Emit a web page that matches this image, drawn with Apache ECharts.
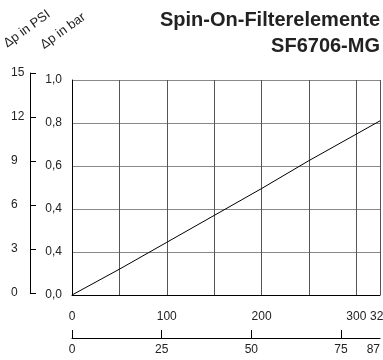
<!DOCTYPE html>
<html><head><meta charset="utf-8">
<script src="https://cdn.jsdelivr.net/npm/echarts@6/dist/echarts.min.js"></script>
<style>html,body{margin:0;padding:0;background:#fff}#c{width:383px;height:360px}</style>
</head><body><div id="c"></div>
<script>
const titleLines = ["Spin-On-Filterelemente", "SF6706-MG"];
const yTitlePSI = "Δp in PSI";
const yTitleBar = "Δp in bar";
const flowLmin = [0, 50, 100, 150, 200, 250, 325];
const dpBar = [0, 0.12, 0.245, 0.37, 0.495, 0.625, 0.81];
const barTickLabels = ["0,0", "0,4", "0,4", "0,6", "0,8", "1,0"];
const psiTicks = [0, 3, 6, 9, 12, 15];
const lminLabelValues = [0, 100, 200, 300, 325];
const lminLabels = ["0", "100", "200", "300", "325"];
const gpmTickValues = [0, 25, 50, 75];
const gpmLabelValues = [0, 25, 50, 75, 85.86];
const gpmLabels = ["0", "25", "50", "75", "87"];

const FONT = "'Liberation Sans Narrow','Liberation Sans',Arial,sans-serif";
const chart = echarts.init(document.getElementById('c'), null, {renderer: 'canvas'});
const lab = {color: '#222', fontFamily: FONT, fontSize: 12};
chart.setOption({
  animation: false,
  grid: [
    {left: 72, top: 80, width: 308, height: 215, outerBoundsMode: 'none', containLabel: false},
    {left: 30, top: 73, width: 1, height: 220, outerBoundsMode: 'none', containLabel: false}
  ],
  xAxis: [
    {gridIndex: 0, type: 'value', min: 0, max: 325, interval: 50,
     axisLine: {show: true, lineStyle: {color: '#000', width: 1}},
     axisTick: {show: false}, axisLabel: {show: false},
     splitLine: {show: true, lineStyle: {color: '#555', width: 1}}},
    {gridIndex: 0, type: 'value', min: 0, max: 325, position: 'bottom',
     axisLine: {show: false}, axisTick: {show: false}, splitLine: {show: false},
     axisLabel: Object.assign({show: true, margin: 16, customValues: lminLabelValues,
       formatter: v => lminLabels[lminLabelValues.indexOf(v)] ?? ''}, lab)},
    {gridIndex: 0, type: 'value', min: 0, max: 85.86, position: 'bottom', offset: 43,
     axisLine: {show: true, onZero: false, lineStyle: {color: '#000', width: 1}},
     axisTick: {show: true, inside: true, length: 8, customValues: gpmTickValues, lineStyle: {color: '#000'}},
     splitLine: {show: false},
     axisLabel: Object.assign({show: true, margin: 6, customValues: gpmLabelValues, alignMaxLabel: 'right',
       formatter: v => gpmLabels[gpmLabelValues.indexOf(v)] ?? ''}, lab)},
    {gridIndex: 1, type: 'value', min: 0, max: 1, show: false}
  ],
  yAxis: [
    {gridIndex: 0, type: 'value', min: 0, max: 1, interval: 0.2,
     axisLine: {show: true, lineStyle: {color: '#000', width: 1}},
     axisTick: {show: false},
     splitLine: {show: true, lineStyle: {color: '#888', width: 1}},
     axisLabel: Object.assign({margin: 10, formatter: (v) => barTickLabels[Math.round(v * 5)]}, lab)},
    {gridIndex: 1, type: 'value', min: 0, max: 15, interval: 3,
     axisLine: {show: true, lineStyle: {color: '#000', width: 1}},
     axisTick: {show: true, inside: true, length: 6, lineStyle: {color: '#000'}},
     splitLine: {show: false},
     axisLabel: Object.assign({margin: 19, align: 'left', formatter: v => psiTicks.includes(v) ? String(v) : ''}, lab)}
  ],
  series: [{
    type: 'line', xAxisIndex: 0, yAxisIndex: 0, symbol: 'none',
    lineStyle: {color: '#000', width: 1},
    data: flowLmin.map((x, i) => [x, dpBar[i]])
  }],
  graphic: [
    {type: 'text', right: 3, top: 10, style: {text: titleLines[0], fill: '#222', font: "bold 20px 'Liberation Sans Narrow','Liberation Sans',Arial,sans-serif", textAlign: 'right'}},
    {type: 'text', right: 3, top: 36, style: {text: titleLines[1], fill: '#222', font: "bold 20px 'Liberation Sans Narrow','Liberation Sans',Arial,sans-serif", textAlign: 'right'}},
    {type: 'text', x: 27, y: 29, rotation: 36 * Math.PI / 180, style: {text: yTitlePSI, fill: '#222', font: "13px 'Liberation Sans Narrow','Liberation Sans',Arial,sans-serif", textAlign: 'center', textVerticalAlign: 'middle'}},
    {type: 'text', x: 63, y: 31, rotation: 36 * Math.PI / 180, style: {text: yTitleBar, fill: '#222', font: "13px 'Liberation Sans Narrow','Liberation Sans',Arial,sans-serif", textAlign: 'center', textVerticalAlign: 'middle'}}
  ]
});
</script></body></html>
